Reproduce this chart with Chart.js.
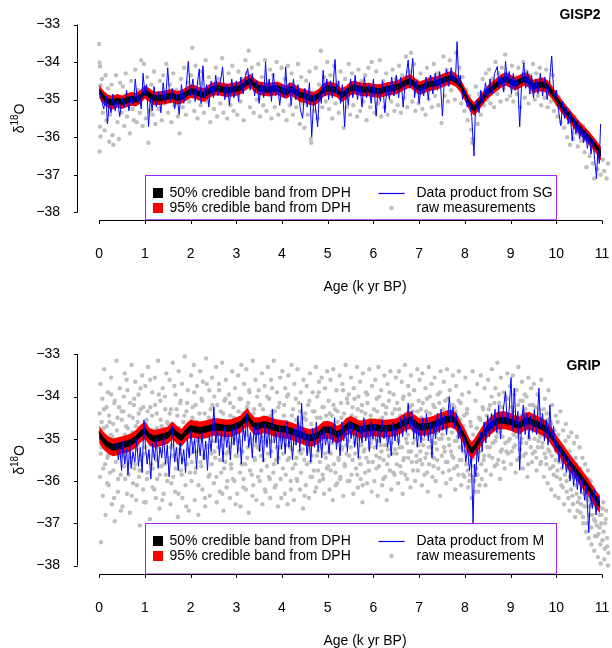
<!DOCTYPE html>
<html><head><meta charset="utf-8">
<script src="https://cdn.jsdelivr.net/npm/chart.js@4/dist/chart.umd.min.js"></script>
<style>
html,body{margin:0;padding:0;background:#fff;overflow:hidden}
#wrap{position:relative;width:612px;height:648px;overflow:hidden;background:#fff}
.panel{position:absolute;left:0;width:656px;height:324px}
</style></head><body>
<div id="wrap">
<div class="panel" style="top:0"><canvas id="gisp" width="656" height="324"></canvas></div>
<div class="panel" style="top:324px"><canvas id="grip" width="656" height="324"></canvas></div>
</div>
<script>
// tick labels
const ageTicks=[0,1,2,3,4,5,6,7,8,9,10,11];
const d18OTicks=[-38,-37,-36,-35,-34,-33];

// ---- GISP2 ----
// posterior band centre [age, d18O] and half widths of the credible bands
const gispMid=[[0,-34.78],[0.1,-34.95],[0.2,-35.05],[0.3,-35.08],[0.4,-35.03],[0.5,-35.07],[0.6,-35.02],[0.7,-34.98],[0.8,-35.0],[0.9,-34.93],[1.0,-34.8],[1.1,-34.88],[1.2,-34.97],[1.3,-34.96],[1.4,-34.95],[1.5,-34.92],[1.6,-34.9],[1.7,-34.95],[1.8,-34.93],[1.9,-34.85],[2.0,-34.78],[2.1,-34.8],[2.2,-34.85],[2.3,-34.88],[2.4,-34.78],[2.5,-34.72],[2.6,-34.7],[2.7,-34.73],[2.8,-34.76],[2.9,-34.74],[3.0,-34.72],[3.1,-34.68],[3.2,-34.58],[3.3,-34.5],[3.4,-34.62],[3.5,-34.7],[3.6,-34.72],[3.7,-34.74],[3.8,-34.72],[3.9,-34.7],[4.0,-34.76],[4.1,-34.8],[4.2,-34.72],[4.3,-34.8],[4.4,-34.88],[4.5,-34.9],[4.6,-34.96],[4.7,-34.98],[4.8,-34.9],[4.9,-34.75],[5.0,-34.7],[5.1,-34.72],[5.2,-34.76],[5.3,-34.88],[5.4,-34.82],[5.5,-34.7],[5.6,-34.68],[5.7,-34.72],[5.8,-34.74],[5.9,-34.73],[6.0,-34.76],[6.1,-34.77],[6.2,-34.75],[6.3,-34.72],[6.4,-34.7],[6.5,-34.68],[6.6,-34.62],[6.7,-34.55],[6.8,-34.5],[6.9,-34.6],[7.0,-34.7],[7.1,-34.66],[7.2,-34.6],[7.3,-34.58],[7.4,-34.55],[7.5,-34.5],[7.6,-34.45],[7.7,-34.42],[7.8,-34.48],[7.9,-34.62],[8.0,-34.85],[8.1,-35.1],[8.2,-35.25],[8.3,-35.12],[8.4,-34.95],[8.5,-34.8],[8.6,-34.7],[8.7,-34.6],[8.8,-34.5],[8.9,-34.45],[9.0,-34.52],[9.1,-34.58],[9.2,-34.52],[9.3,-34.45],[9.4,-34.5],[9.5,-34.65],[9.6,-34.62],[9.7,-34.6],[9.8,-34.65],[9.9,-34.8],[10.0,-34.98],[10.1,-35.15],[10.2,-35.3],[10.3,-35.45],[10.4,-35.6],[10.5,-35.75],[10.6,-35.88],[10.7,-36.0],[10.8,-36.15],[10.9,-36.3],[10.98,-36.45]];
const gispHalf95=0.18;
const gispHalf50=0.08;
// data product from SG [age, d18O]
const gispSG=[[0,-34.72],[0.05,-35.0],[0.1,-35.25],[0.15,-34.9],[0.18,-35.65],[0.22,-35.1],[0.26,-35.35],[0.3,-34.85],[0.35,-35.3],[0.4,-35.0],[0.45,-35.45],[0.5,-34.95],[0.55,-35.2],[0.6,-34.75],[0.65,-35.3],[0.7,-34.9],[0.75,-35.15],[0.79,-34.45],[0.84,-35.1],[0.88,-34.85],[0.92,-35.25],[0.96,-34.3],[1.0,-34.85],[1.04,-34.6],[1.08,-35.72],[1.12,-34.95],[1.16,-35.3],[1.2,-34.65],[1.25,-35.2],[1.3,-34.8],[1.35,-35.35],[1.4,-34.55],[1.45,-35.1],[1.5,-34.15],[1.55,-35.05],[1.6,-34.7],[1.65,-35.25],[1.7,-34.85],[1.75,-35.4],[1.8,-34.6],[1.85,-35.1],[1.9,-34.7],[1.95,-33.98],[2.0,-34.9],[2.05,-34.45],[2.1,-35.05],[2.15,-34.55],[2.19,-34.18],[2.23,-35.1],[2.27,-34.1],[2.31,-34.95],[2.35,-34.6],[2.4,-35.2],[2.45,-34.5],[2.5,-34.95],[2.55,-34.35],[2.6,-34.9],[2.65,-34.55],[2.7,-34.13],[2.75,-35.0],[2.8,-34.6],[2.85,-35.15],[2.9,-34.45],[2.95,-34.95],[3.0,-34.5],[3.05,-35.05],[3.1,-34.4],[3.15,-34.85],[3.2,-34.35],[3.25,-34.17],[3.3,-34.75],[3.35,-34.3],[3.4,-34.9],[3.45,-34.5],[3.5,-35.1],[3.55,-34.55],[3.6,-34.95],[3.64,-34.0],[3.68,-34.85],[3.72,-34.45],[3.77,-35.05],[3.81,-34.3],[3.86,-34.9],[3.9,-34.55],[3.95,-35.15],[4.0,-34.6],[4.05,-34.95],[4.08,-34.13],[4.12,-34.9],[4.16,-34.55],[4.2,-35.15],[4.25,-34.45],[4.3,-35.0],[4.35,-34.6],[4.4,-35.25],[4.45,-35.5],[4.5,-34.7],[4.55,-35.2],[4.6,-34.55],[4.65,-35.99],[4.7,-34.85],[4.74,-35.3],[4.78,-35.72],[4.82,-34.75],[4.86,-35.1],[4.9,-34.22],[4.94,-34.9],[4.98,-34.45],[5.02,-35.0],[5.06,-34.5],[5.1,-34.95],[5.16,-33.93],[5.2,-34.85],[5.24,-34.5],[5.28,-35.1],[5.32,-34.6],[5.37,-35.72],[5.41,-34.7],[5.45,-35.15],[5.5,-34.45],[5.55,-34.95],[5.6,-34.35],[5.65,-35.0],[5.7,-34.55],[5.75,-35.2],[5.8,-34.4],[5.85,-34.95],[5.9,-34.6],[5.95,-35.1],[6.0,-34.45],[6.06,-35.44],[6.1,-34.7],[6.15,-35.05],[6.2,-34.5],[6.25,-35.35],[6.3,-34.6],[6.35,-35.0],[6.4,-34.4],[6.45,-34.9],[6.5,-34.35],[6.55,-34.95],[6.6,-34.4],[6.65,-35.2],[6.7,-34.5],[6.76,-33.95],[6.8,-34.7],[6.86,-33.9],[6.9,-34.95],[6.95,-34.5],[7.0,-35.1],[7.05,-34.6],[7.1,-34.9],[7.15,-34.4],[7.2,-35.0],[7.25,-34.35],[7.3,-34.85],[7.35,-34.3],[7.4,-34.75],[7.45,-34.25],[7.51,-35.44],[7.55,-34.5],[7.6,-34.2],[7.65,-34.65],[7.7,-34.15],[7.75,-34.55],[7.8,-34.3],[7.83,-33.46],[7.87,-34.6],[7.9,-34.35],[7.95,-35.0],[8.0,-34.75],[8.05,-35.2],[8.1,-35.05],[8.15,-35.45],[8.2,-36.5],[8.23,-35.3],[8.27,-35.0],[8.31,-35.35],[8.35,-34.75],[8.4,-35.1],[8.45,-34.55],[8.5,-34.95],[8.55,-34.45],[8.6,-34.85],[8.65,-34.3],[8.71,-34.12],[8.75,-34.7],[8.8,-34.35],[8.85,-34.8],[8.89,-33.98],[8.93,-34.6],[8.97,-34.25],[9.02,-34.85],[9.06,-34.3],[9.1,-34.75],[9.15,-34.4],[9.2,-35.72],[9.24,-34.6],[9.29,-34.02],[9.33,-34.7],[9.37,-34.25],[9.42,-34.85],[9.46,-34.35],[9.5,-34.95],[9.55,-34.45],[9.6,-34.85],[9.65,-34.3],[9.7,-34.9],[9.75,-34.4],[9.8,-35.0],[9.85,-34.55],[9.9,-33.84],[9.95,-34.95],[10.0,-34.75],[10.05,-35.3],[10.1,-35.7],[10.14,-35.05],[10.18,-35.5],[10.22,-35.2],[10.26,-35.65],[10.3,-35.3],[10.35,-36.1],[10.39,-35.5],[10.43,-35.9],[10.47,-35.55],[10.51,-36.05],[10.55,-35.7],[10.6,-36.15],[10.64,-35.8],[10.68,-36.3],[10.72,-35.95],[10.76,-36.45],[10.8,-36.05],[10.84,-36.6],[10.88,-37.1],[10.91,-36.35],[10.94,-36.7],[10.97,-35.65]];
// raw measurements [age, d18O]
const gispRaw=[[0.00,-33.52],[0.01,-34.02],[0.02,-34.12],[0.03,-34.62],[0.02,-35.72],[0.03,-35.98],[0.01,-36.38],[0.06,-34.45],[0.08,-35.35],[0.1,-34.85],[0.12,-35.82],[0.14,-34.35],[0.16,-35.55],[0.19,-34.7],[0.22,-36.12],[0.24,-35.4],[0.27,-34.6],[0.29,-35.95],[0.31,-36.2],[0.34,-35.15],[0.37,-34.35],[0.4,-35.6],[0.43,-36.05],[0.46,-34.55],[0.49,-35.35],
[0.52,-34.65],[0.55,-35.7],[0.58,-34.3],[0.61,-35.45],[0.64,-34.95],[0.67,-35.9],[0.7,-34.5],[0.73,-35.25],[0.76,-35.55],[0.79,-34.2],[0.82,-35.6],[0.86,-34.75],[0.89,-35.35],[0.92,-33.95],[0.95,-35.7],[0.98,-34.05],
[1.02,-35.5],[1.05,-34.4],[1.08,-36.15],[1.11,-35.3],[1.14,-34.6],[1.17,-35.4],[1.2,-34.25],[1.23,-35.65],[1.27,-34.85],[1.3,-35.25],[1.33,-34.5],[1.37,-35.55],[1.4,-34.35],[1.44,-35.1],[1.47,-34.05],
[1.51,-35.35],[1.55,-34.6],[1.58,-35.6],[1.62,-34.3],[1.65,-35.15],[1.69,-34.75],[1.72,-35.45],[1.76,-35.9],[1.79,-34.45],[1.83,-35.2],[1.86,-34.15],[1.9,-35.4],[1.94,-34.55],[1.97,-35.05],
[2.01,-34.35],[2.04,-33.62],[2.08,-35.3],[2.11,-34.1],[2.15,-35.5],[2.18,-34.55],[2.22,-35.15],[2.25,-34.25],[2.29,-35.35],[2.33,-33.95],[2.36,-35.05],[2.4,-34.4],[2.43,-35.6],[2.47,-34.65],
[2.51,-35.25],[2.55,-34.15],[2.58,-35.45],[2.62,-34.45],[2.65,-35.1],[2.69,-33.9],[2.72,-35.35],[2.76,-34.6],[2.8,-35.5],[2.83,-34.3],[2.87,-35.15],[2.91,-34.1],[2.94,-35.3],[2.98,-34.7],
[3.02,-35.4],[3.05,-34.25],[3.09,-35.05],[3.12,-34.45],[3.16,-35.55],[3.2,-33.95],[3.23,-34.3],[3.27,-33.7],[3.3,-35.2],[3.34,-34.15],[3.38,-35.35],[3.41,-34.6],[3.45,-35.0],[3.48,-34.05],
[3.52,-35.45],[3.56,-34.4],[3.59,-35.15],[3.63,-33.95],[3.66,-35.3],[3.7,-34.55],[3.74,-34.2],[3.77,-35.5],[3.81,-34.35],[3.84,-35.2],[3.88,-34.0],[3.92,-35.4],[3.95,-34.6],[3.99,-34.15],
[4.03,-35.3],[4.06,-34.45],[4.1,-35.55],[4.13,-34.1],[4.17,-35.15],[4.21,-34.3],[4.24,-35.4],[4.28,-34.65],[4.31,-35.2],[4.35,-34.05],[4.39,-35.65],[4.42,-34.4],[4.46,-35.1],[4.49,-35.75],
[4.53,-34.5],[4.56,-35.4],[4.6,-34.25],[4.63,-36.05],[4.64,-36.15],[4.67,-34.8],[4.71,-35.3],[4.74,-34.15],[4.78,-35.5],[4.81,-34.6],[4.85,-33.7],[4.88,-35.2],[4.92,-34.4],[4.96,-35.05],[4.99,-34.0],
[5.03,-35.25],[5.06,-34.35],[5.1,-35.5],[5.14,-34.1],[5.17,-35.1],[5.21,-34.55],[5.24,-35.35],[5.28,-34.25],[5.31,-35.0],[5.35,-35.75],[5.38,-34.45],[5.42,-35.2],[5.46,-34.05],[5.49,-35.4],
[5.53,-34.3],[5.56,-35.15],[5.6,-34.6],[5.64,-35.45],[5.67,-34.2],[5.71,-35.3],[5.74,-34.5],[5.78,-35.05],[5.82,-34.35],[5.85,-35.55],[5.89,-34.15],[5.93,-35.2],[5.96,-34.0],[5.99,-34.7],
[6.03,-35.35],[6.06,-34.25],[6.1,-35.1],[6.14,-33.95],[6.17,-35.45],[6.21,-34.5],[6.24,-35.2],[6.28,-34.3],[6.31,-35.4],[6.35,-34.6],[6.39,-35.05],[6.42,-34.2],[6.46,-35.3],[6.49,-34.45],
[6.53,-35.15],[6.56,-34.1],[6.6,-35.35],[6.63,-34.35],[6.67,-34.95],[6.71,-33.85],[6.74,-35.2],[6.78,-34.25],[6.82,-33.75],[6.85,-35.05],[6.89,-34.05],[6.92,-35.3],[6.96,-34.5],[6.99,-35.1],
[7.03,-34.3],[7.07,-35.25],[7.1,-34.55],[7.14,-35.4],[7.17,-34.15],[7.21,-35.0],[7.25,-34.4],[7.28,-35.2],[7.32,-34.05],[7.35,-34.9],[7.39,-34.3],[7.42,-35.15],[7.46,-34.6],[7.49,-35.62],
[7.53,-33.85],[7.56,-34.9],[7.6,-34.2],[7.63,-35.05],[7.67,-33.95],[7.7,-34.75],[7.74,-34.3],[7.78,-35.0],[7.81,-33.75],[7.85,-34.55],[7.88,-34.15],[7.92,-35.1],[7.95,-34.4],[7.99,-35.3],
[8.03,-34.75],[8.06,-35.55],[8.1,-34.9],[8.14,-35.8],[8.16,-36.15],[8.17,-36.05],[8.2,-35.3],[8.24,-34.65],[8.28,-35.65],[8.31,-34.85],[8.35,-35.4],[8.39,-34.45],[8.42,-35.15],[8.46,-34.3],[8.49,-35.0],
[8.53,-34.2],[8.56,-35.1],[8.6,-34.45],[8.64,-35.2],[8.67,-34.0],[8.71,-34.85],[8.74,-34.3],[8.78,-35.05],[8.81,-34.15],[8.85,-34.7],[8.88,-33.8],[8.92,-35.0],[8.95,-34.35],[8.99,-34.9],
[9.03,-34.1],[9.06,-35.05],[9.1,-34.4],[9.14,-34.85],[9.17,-34.15],[9.21,-35.2],[9.24,-34.5],[9.28,-34.0],[9.31,-34.95],[9.35,-34.25],[9.39,-35.1],[9.42,-34.35],[9.46,-34.8],[9.49,-34.05],
[9.53,-35.0],[9.56,-34.3],[9.6,-34.9],[9.64,-34.15],[9.67,-35.15],[9.71,-34.45],[9.74,-34.95],[9.78,-34.2],[9.81,-35.2],[9.85,-34.55],[9.88,-35.05],[9.92,-34.35],[9.95,-35.3],[9.99,-34.8],
[10.03,-35.45],[10.06,-34.95],[10.1,-35.6],[10.14,-35.2],[10.17,-35.75],[10.21,-35.35],[10.24,-36.0],[10.28,-35.5],[10.3,-36.2],[10.33,-35.6],[10.37,-36.05],[10.4,-35.45],[10.44,-35.9],[10.47,-36.25],
[10.51,-35.65],[10.55,-36.1],[10.59,-35.7],[10.62,-36.4],[10.66,-36.8],[10.69,-35.95],[10.73,-36.5],[10.77,-36.15],[10.8,-36.7],[10.83,-37.1],[10.86,-36.35],[10.9,-36.85],[10.93,-36.45],[10.97,-37.0],[11.02,-36.6],[11.05,-36.9],[11.1,-37.1],[11.13,-36.7]];

// ---- GRIP ----
const gripMid=[[0,-34.9],[0.1,-35.05],[0.2,-35.15],[0.3,-35.2],[0.4,-35.18],[0.5,-35.15],[0.6,-35.12],[0.7,-35.08],[0.8,-35.0],[0.9,-34.88],[1.0,-34.8],[1.1,-34.95],[1.2,-35.0],[1.3,-34.98],[1.4,-34.95],[1.5,-34.92],[1.6,-34.8],[1.7,-34.9],[1.8,-34.98],[1.9,-34.85],[2.0,-34.75],[2.1,-34.78],[2.2,-34.8],[2.3,-34.78],[2.4,-34.75],[2.5,-34.72],[2.6,-34.72],[2.7,-34.74],[2.8,-34.75],[2.9,-34.74],[3.0,-34.7],[3.1,-34.65],[3.2,-34.52],[3.25,-34.48],[3.3,-34.58],[3.4,-34.7],[3.5,-34.7],[3.6,-34.66],[3.7,-34.68],[3.8,-34.72],[3.9,-34.75],[4.0,-34.77],[4.1,-34.78],[4.2,-34.82],[4.3,-34.86],[4.4,-34.9],[4.5,-34.95],[4.6,-34.98],[4.7,-34.96],[4.8,-34.9],[4.9,-34.8],[5.0,-34.78],[5.1,-34.82],[5.2,-34.9],[5.3,-34.85],[5.4,-34.72],[5.5,-34.67],[5.6,-34.72],[5.7,-34.78],[5.8,-34.76],[5.9,-34.74],[6.0,-34.73],[6.1,-34.74],[6.2,-34.76],[6.3,-34.75],[6.4,-34.74],[6.5,-34.72],[6.6,-34.66],[6.7,-34.6],[6.8,-34.56],[6.9,-34.64],[7.0,-34.72],[7.1,-34.72],[7.2,-34.7],[7.3,-34.67],[7.4,-34.62],[7.5,-34.58],[7.6,-34.54],[7.7,-34.52],[7.8,-34.58],[7.9,-34.78],[8.0,-34.97],[8.1,-35.2],[8.15,-35.28],[8.2,-35.22],[8.3,-35.05],[8.4,-34.88],[8.5,-34.75],[8.6,-34.66],[8.7,-34.58],[8.8,-34.56],[8.9,-34.57],[9.0,-34.6],[9.1,-34.65],[9.2,-34.68],[9.3,-34.6],[9.4,-34.57],[9.5,-34.62],[9.6,-34.67],[9.7,-34.72],[9.8,-34.8],[9.9,-34.95],[10.0,-35.12],[10.1,-35.27],[10.2,-35.42],[10.3,-35.58],[10.4,-35.72],[10.5,-35.86],[10.6,-36.0],[10.7,-36.15],[10.8,-36.32],[10.9,-36.48],[10.96,-36.56]];
const gripHalf95=0.21;
const gripHalf50=0.08;
// data product from M [age, d18O]
const gripM=[[0.38,-35.1],[0.42,-35.5],[0.45,-35.2],[0.49,-35.75],[0.52,-35.05],[0.56,-35.6],[0.6,-35.25],[0.63,-35.85],[0.67,-35.1],[0.7,-35.7],[0.74,-35.3],[0.78,-35.55],[0.82,-35.0],[0.86,-35.65],[0.9,-35.2],[0.94,-35.8],[0.98,-34.55],[1.01,-35.15],[1.05,-35.6],[1.09,-35.25],[1.13,-35.95],[1.17,-35.1],[1.21,-35.5],[1.25,-35.0],[1.29,-35.7],[1.33,-35.2],[1.37,-35.45],[1.41,-34.9],[1.45,-35.6],[1.49,-35.15],[1.53,-35.9],[1.57,-35.3],[1.61,-34.7],[1.65,-35.55],[1.69,-35.2],[1.73,-35.75],[1.77,-35.1],[1.81,-35.6],[1.85,-35.25],[1.89,-35.8],[1.93,-35.0],[1.97,-35.45],[2.01,-34.8],[2.05,-35.35],[2.09,-35.0],[2.13,-35.7],[2.17,-34.95],[2.21,-35.4],[2.25,-34.85],[2.29,-35.5],[2.33,-35.05],[2.37,-35.75],[2.41,-34.9],[2.45,-35.3],[2.51,-34.24],[2.55,-35.1],[2.59,-34.75],[2.63,-35.4],[2.67,-34.85],[2.71,-35.55],[2.75,-34.7],[2.79,-35.2],[2.83,-34.9],[2.87,-35.5],[2.91,-34.75],[2.95,-35.15],[2.99,-34.6],[3.03,-35.35],[3.07,-34.8],[3.11,-35.6],[3.15,-34.7],[3.19,-35.05],[3.23,-34.4],[3.27,-35.2],[3.31,-34.85],[3.35,-35.45],[3.39,-34.7],[3.43,-35.1],[3.47,-34.6],[3.51,-35.3],[3.55,-34.8],[3.59,-35.55],[3.63,-34.65],[3.67,-35.2],[3.71,-34.75],[3.75,-35.45],[3.79,-34.3],[3.83,-35.1],[3.87,-34.85],[3.91,-35.6],[3.95,-34.7],[3.99,-35.25],[4.03,-34.8],[4.07,-35.35],[4.11,-34.6],[4.15,-35.2],[4.19,-34.9],[4.23,-35.5],[4.27,-34.75],[4.31,-35.15],[4.35,-34.45],[4.39,-35.3],[4.43,-34.16],[4.47,-35.1],[4.51,-34.8],[4.55,-35.4],[4.59,-34.9],[4.63,-35.55],[4.67,-34.75],[4.71,-35.2],[4.75,-34.6],[4.79,-35.3],[4.83,-34.85],[4.87,-35.45],[4.91,-34.7],[4.95,-35.15],[4.99,-34.9],[5.03,-35.35],[5.07,-34.7],[5.11,-35.1],[5.15,-34.5],[5.19,-35.25],[5.23,-34.85],[5.27,-35.4],[5.31,-34.6],[5.35,-35.05],[5.39,-34.75],[5.43,-35.3],[5.47,-34.55],[5.51,-35.0],[5.55,-34.65],[5.59,-35.2],[5.63,-34.8],[5.67,-35.45],[5.71,-34.7],[5.75,-35.1],[5.79,-34.5],[5.83,-35.05],[5.87,-34.75],[5.91,-35.3],[5.95,-34.6],[5.99,-35.0],[6.03,-34.65],[6.07,-35.25],[6.11,-34.8],[6.15,-35.1],[6.19,-34.55],[6.23,-35.0],[6.27,-34.7],[6.31,-35.2],[6.35,-34.85],[6.39,-35.4],[6.43,-34.6],[6.47,-35.05],[6.51,-34.75],[6.55,-35.15],[6.6,-34.5],[6.64,-34.95],[6.68,-34.45],[6.72,-34.85],[6.76,-34.15],[6.8,-34.75],[6.84,-34.35],[6.88,-35.0],[6.92,-34.55],[6.96,-35.2],[7.0,-34.7],[7.04,-35.1],[7.08,-34.5],[7.12,-34.95],[7.16,-34.4],[7.2,-35.05],[7.24,-34.6],[7.28,-35.45],[7.32,-34.65],[7.36,-35.0],[7.4,-34.4],[7.44,-34.85],[7.48,-34.3],[7.52,-34.8],[7.56,-34.45],[7.6,-34.9],[7.66,-34.0],[7.7,-34.6],[7.74,-34.25],[7.78,-34.75],[7.82,-34.4],[7.86,-35.0],[7.9,-34.7],[7.94,-35.3],[7.98,-34.95],[8.02,-35.55],[8.06,-35.2],[8.1,-35.75],[8.14,-35.4],[8.18,-37.0],[8.21,-35.6],[8.24,-35.9],[8.27,-35.2],[8.3,-35.55],[8.34,-34.85],[8.38,-35.3],[8.42,-34.6],[8.46,-35.1],[8.5,-34.45],[8.54,-34.95],[8.58,-34.4],[8.62,-34.8],[8.66,-34.3],[8.7,-34.85],[8.74,-34.2],[8.78,-35.0],[8.82,-34.5],[8.86,-34.15],[8.89,-33.88],[8.93,-34.7],[8.97,-34.3],[9.01,-33.55],[9.05,-34.8],[9.08,-33.8],[9.12,-34.65],[9.16,-34.35],[9.2,-35.74],[9.24,-34.6],[9.28,-34.2],[9.32,-34.9],[9.36,-34.4],[9.4,-35.0],[9.44,-34.45],[9.48,-34.85],[9.52,-34.3],[9.57,-34.9],[9.62,-33.8],[9.66,-34.75],[9.7,-34.4],[9.74,-35.05],[9.78,-34.55],[9.82,-35.15],[9.86,-34.2],[9.9,-35.0],[9.94,-34.7],[9.98,-35.3],[10.02,-35.05],[10.06,-35.55],[10.1,-35.2],[10.14,-35.7],[10.18,-35.35],[10.22,-35.8],[10.26,-35.45],[10.3,-36.0],[10.34,-35.6],[10.38,-36.1],[10.42,-35.7],[10.46,-36.2],[10.5,-35.85],[10.54,-36.3],[10.58,-35.95],[10.62,-36.45],[10.66,-36.1],[10.71,-37.22],[10.75,-36.3],[10.79,-36.65],[10.83,-36.2],[10.87,-36.8],[10.91,-36.35],[10.95,-36.6]];
// raw measurements [age, d18O]
const gripRaw=[[0.01,-34.4],[0.02,-35.9],[0.03,-33.7],[0.04,-37.45],[0.05,-35.2],[0.07,-34.05],[0.08,-36.35],[0.1,-34.75],[0.11,-33.35],[0.13,-35.6],[0.14,-36.8],[0.16,-34.25],[0.18,-35.45],[0.19,-33.9],[0.21,-36.1],[0.23,-34.6],[0.24,-35.05],[0.26,-33.55],[0.28,-36.55],[0.29,-34.95],[0.31,-35.75],[0.33,-34.15],[0.34,-36.95],[0.36,-35.3],[0.38,-33.15],[0.4,-34.5],[0.41,-36.25],[0.43,-35.0],[0.45,-33.8],[0.47,-35.85],[0.49,-34.35],
[0.51,-36.6],[0.52,-35.4],[0.54,-34.0],[0.56,-33.45],[0.57,-35.95],[0.59,-34.7],[0.61,-36.3],[0.62,-33.85],[0.64,-35.15],[0.66,-34.45],[0.67,-36.75],[0.69,-35.55],[0.71,-33.25],[0.72,-34.85],[0.74,-36.05],[0.76,-34.2],[0.77,-35.7],[0.79,-33.65],[0.81,-36.45],[0.82,-35.25],[0.84,-34.6],[0.86,-33.95],[0.87,-35.9],[0.89,-37.05],[0.91,-34.3],[0.92,-35.5],[0.94,-33.5],[0.96,-36.2],[0.97,-34.9],[0.99,-35.35],
[1.01,-33.75],[1.02,-36.5],[1.04,-34.55],[1.06,-35.8],[1.07,-33.3],[1.09,-35.05],[1.11,-36.9],[1.12,-34.25],[1.14,-35.6],[1.16,-33.9],[1.17,-36.15],[1.19,-34.8],[1.21,-35.4],[1.22,-33.55],[1.24,-36.4],[1.26,-34.4],[1.27,-35.95],[1.29,-33.15],[1.31,-35.2],[1.32,-36.65],[1.34,-34.1],[1.36,-35.65],[1.37,-34.7],[1.39,-33.8],[1.41,-36.3],[1.42,-35.1],[1.44,-34.0],[1.46,-35.85],[1.47,-33.45],[1.49,-36.0],
[1.51,-34.65],[1.52,-35.45],[1.54,-33.6],[1.56,-36.55],[1.57,-34.3],[1.59,-35.15],[1.61,-33.2],[1.62,-35.9],[1.64,-34.85],[1.66,-36.25],[1.67,-33.95],[1.69,-35.5],[1.71,-34.45],[1.72,-36.85],[1.74,-33.4],[1.76,-35.25],[1.77,-34.15],[1.79,-35.75],[1.81,-33.7],[1.82,-36.4],[1.84,-34.6],[1.86,-35.0],[1.87,-33.05],[1.89,-36.1],[1.91,-34.35],[1.92,-35.6],[1.94,-33.85],[1.96,-36.7],[1.97,-34.95],[1.99,-35.35],
[2.01,-33.5],[2.02,-36.0],[2.04,-34.5],[2.06,-35.3],[2.07,-33.25],[2.09,-36.45],[2.11,-34.2],[2.12,-35.7],[2.14,-33.75],[2.16,-35.05],[2.17,-36.8],[2.19,-34.75],[2.21,-33.4],[2.22,-35.55],[2.24,-34.05],[2.26,-36.2],[2.27,-33.65],[2.29,-35.4],[2.31,-34.4],[2.32,-36.6],[2.34,-33.1],[2.36,-35.15],[2.37,-34.9],[2.39,-35.9],[2.41,-33.85],[2.42,-36.35],[2.44,-34.3],[2.46,-35.6],[2.47,-33.55],[2.49,-34.8],
[2.51,-36.05],[2.52,-34.0],[2.54,-35.45],[2.56,-33.3],[2.57,-36.5],[2.59,-34.65],[2.61,-35.2],[2.62,-33.7],[2.64,-36.25],[2.66,-34.35],[2.67,-35.8],[2.69,-33.2],[2.71,-35.0],[2.72,-36.7],[2.74,-34.1],[2.76,-35.55],[2.77,-33.6],[2.79,-36.15],[2.81,-34.8],[2.82,-35.3],[2.84,-33.95],[2.86,-36.4],[2.87,-34.45],[2.89,-35.7],[2.91,-33.4],[2.92,-35.1],[2.94,-34.25],[2.96,-36.0],[2.97,-33.8],[2.99,-35.4],
[3.01,-34.55],[3.02,-36.3],[3.04,-33.5],[3.06,-35.25],[3.07,-34.05],[3.09,-36.6],[3.11,-33.25],[3.12,-35.6],[3.14,-34.4],[3.16,-35.95],[3.17,-33.7],[3.19,-34.85],[3.21,-36.2],[3.22,-33.35],[3.24,-35.45],[3.26,-34.15],[3.27,-36.75],[3.29,-33.9],[3.31,-35.1],[3.32,-34.6],[3.34,-35.85],[3.36,-33.15],[3.37,-36.1],[3.39,-34.3],[3.41,-35.5],[3.42,-33.6],[3.44,-36.45],[3.46,-34.75],[3.47,-35.2],[3.49,-33.85],
[3.51,-36.0],[3.52,-34.2],[3.54,-35.4],[3.56,-33.45],[3.57,-36.55],[3.59,-34.7],[3.61,-35.05],[3.62,-33.75],[3.64,-36.25],[3.66,-34.5],[3.67,-35.65],[3.69,-33.3],[3.71,-35.9],[3.72,-34.05],[3.74,-36.4],[3.76,-33.6],[3.77,-35.3],[3.79,-34.35],[3.81,-35.8],[3.82,-33.15],[3.84,-36.15],[3.86,-34.8],[3.87,-35.5],[3.89,-33.9],[3.91,-36.6],[3.92,-34.25],[3.94,-35.2],[3.96,-33.55],[3.97,-35.95],[3.99,-34.6],
[4.01,-33.4],[4.02,-35.7],[4.04,-34.45],[4.06,-36.3],[4.07,-33.8],[4.09,-35.15],[4.11,-34.0],[4.12,-36.55],[4.14,-33.5],[4.16,-35.45],[4.17,-34.7],[4.19,-36.0],[4.21,-33.25],[4.22,-35.25],[4.24,-34.3],[4.26,-36.45],[4.27,-33.7],[4.29,-35.6],[4.31,-34.55],[4.32,-35.95],[4.34,-33.35],[4.36,-35.05],[4.37,-34.15],[4.39,-36.2],[4.41,-33.9],[4.42,-35.35],[4.44,-34.85],[4.46,-36.65],[4.47,-33.6],[4.49,-35.5],
[4.51,-34.4],[4.52,-36.1],[4.54,-33.75],[4.56,-35.3],[4.57,-34.2],[4.59,-36.4],[4.61,-33.45],[4.62,-35.55],[4.64,-34.65],[4.66,-35.9],[4.67,-33.9],[4.69,-35.1],[4.71,-34.35],[4.72,-36.25],[4.74,-33.3],[4.76,-35.4],[4.77,-34.0],[4.79,-35.75],[4.81,-33.65],[4.82,-36.0],[4.84,-34.5],[4.86,-35.2],[4.87,-33.55],[4.89,-35.85],[4.91,-34.25],[4.92,-36.3],[4.94,-33.8],[4.96,-35.45],[4.97,-34.75],[4.99,-33.4],
[5.01,-35.65],[5.02,-34.1],[5.04,-36.2],[5.06,-33.6],[5.07,-35.35],[5.09,-34.45],[5.11,-36.45],[5.12,-33.35],[5.14,-35.0],[5.16,-34.3],[5.17,-35.8],[5.19,-33.85],[5.21,-36.05],[5.22,-34.6],[5.24,-35.5],[5.26,-33.5],[5.27,-35.95],[5.29,-34.15],[5.31,-35.25],[5.32,-33.7],[5.34,-36.35],[5.36,-34.4],[5.37,-35.6],[5.39,-33.25],[5.41,-35.15],[5.42,-34.05],[5.44,-36.0],[5.46,-33.95],[5.47,-35.4],[5.49,-34.7],
[5.51,-33.55],[5.52,-35.85],[5.54,-34.25],[5.56,-36.3],[5.57,-33.8],[5.59,-35.1],[5.61,-34.5],[5.62,-35.7],[5.64,-33.3],[5.66,-36.15],[5.67,-34.0],[5.69,-35.45],[5.71,-33.65],[5.72,-35.95],[5.74,-34.35],[5.76,-36.5],[5.77,-33.45],[5.79,-35.3],[5.81,-34.6],[5.82,-35.8],[5.84,-33.9],[5.86,-36.05],[5.87,-34.15],[5.89,-35.55],[5.91,-33.35],[5.92,-35.2],[5.94,-34.45],[5.96,-36.25],[5.97,-33.75],[5.99,-35.0],
[6.01,-34.3],[6.02,-36.0],[6.04,-33.6],[6.06,-35.4],[6.07,-34.05],[6.09,-36.35],[6.11,-33.3],[6.12,-35.65],[6.14,-34.55],[6.16,-35.15],[6.17,-33.85],[6.19,-36.1],[6.21,-34.2],[6.22,-35.5],[6.24,-33.5],[6.26,-35.9],[6.27,-34.4],[6.29,-36.45],[6.31,-33.7],[6.32,-35.25],[6.34,-34.1],[6.36,-35.75],[6.37,-33.4],[6.39,-36.2],[6.41,-34.65],[6.42,-35.35],[6.44,-33.95],[6.46,-35.85],[6.47,-34.3],[6.49,-33.55],
[6.51,-35.6],[6.52,-34.15],[6.54,-36.05],[6.56,-33.4],[6.57,-35.2],[6.59,-34.45],[6.61,-35.8],[6.62,-33.65],[6.64,-36.3],[6.66,-34.0],[6.67,-35.45],[6.69,-33.25],[6.71,-35.0],[6.72,-34.6],[6.74,-35.95],[6.76,-33.75],[6.77,-35.3],[6.79,-34.25],[6.81,-36.15],[6.82,-33.5],[6.84,-35.55],[6.86,-34.35],[6.87,-35.1],[6.89,-33.85],[6.91,-36.0],[6.92,-34.5],[6.94,-35.4],[6.96,-33.35],[6.97,-35.75],[6.99,-34.1],
[7.01,-33.6],[7.02,-35.5],[7.04,-34.3],[7.06,-36.1],[7.07,-33.45],[7.09,-35.15],[7.11,-34.55],[7.12,-35.85],[7.14,-33.8],[7.16,-35.35],[7.17,-34.05],[7.19,-36.25],[7.21,-33.3],[7.22,-35.6],[7.24,-34.4],[7.26,-35.05],[7.27,-33.7],[7.29,-35.9],[7.31,-34.2],[7.32,-35.45],[7.34,-33.55],[7.36,-36.0],[7.37,-34.65],[7.39,-35.25],[7.41,-33.95],[7.42,-35.7],[7.44,-34.15],[7.46,-36.35],[7.47,-33.4],[7.49,-35.0],
[7.51,-34.45],[7.52,-35.8],[7.54,-33.65],[7.56,-35.3],[7.57,-34.1],[7.59,-36.05],[7.61,-33.35],[7.62,-35.55],[7.64,-34.35],[7.66,-35.15],[7.67,-33.85],[7.69,-35.95],[7.71,-34.6],[7.72,-35.4],[7.74,-33.5],[7.76,-35.7],[7.77,-34.25],[7.79,-36.2],[7.81,-33.75],[7.82,-35.05],[7.84,-34.5],[7.86,-35.85],[7.87,-33.4],[7.89,-35.5],[7.91,-34.15],[7.92,-36.1],[7.94,-33.95],[7.96,-35.3],[7.97,-34.7],[7.99,-35.9],
[8.01,-33.55],[8.03,-35.6],[8.05,-34.3],[8.07,-36.15],[8.09,-33.9],[8.11,-35.85],[8.13,-34.7],[8.15,-36.4],[8.17,-33.4],[8.19,-35.45],[8.21,-36.0],[8.23,-34.1],[8.25,-35.7],[8.27,-33.7],[8.29,-36.25],[8.31,-34.5],[8.33,-35.3],[8.35,-33.5],[8.37,-35.95],[8.39,-34.25],[8.41,-35.5],[8.43,-33.8],[8.45,-36.1],[8.47,-34.65],[8.49,-35.2],
[8.51,-33.6],[8.53,-35.4],[8.55,-34.2],[8.57,-35.85],[8.59,-33.35],[8.61,-35.1],[8.63,-34.45],[8.65,-35.65],[8.67,-33.8],[8.69,-34.95],[8.71,-33.2],[8.73,-35.5],[8.75,-34.15],[8.77,-35.95],[8.79,-33.55],[8.81,-35.25],[8.83,-34.4],[8.85,-33.9],[8.87,-35.7],[8.89,-34.0],[8.91,-35.3],[8.93,-33.45],[8.95,-35.05],[8.97,-34.6],[8.99,-33.75],
[9.01,-35.6],[9.03,-34.25],[9.05,-33.5],[9.07,-35.2],[9.09,-34.5],[9.11,-35.8],[9.13,-33.85],[9.15,-34.95],[9.17,-33.3],[9.19,-35.45],[9.21,-34.1],[9.23,-35.1],[9.25,-33.65],[9.27,-35.7],[9.29,-34.35],[9.31,-33.95],[9.33,-35.35],[9.35,-34.0],[9.37,-35.9],[9.39,-33.55],[9.41,-35.0],[9.43,-34.45],[9.45,-33.8],[9.47,-35.55],[9.49,-34.2],
[9.51,-33.7],[9.53,-35.3],[9.55,-34.55],[9.57,-35.75],[9.59,-33.95],[9.61,-35.05],[9.63,-34.3],[9.65,-35.6],[9.67,-33.6],[9.69,-35.2],[9.71,-34.75],[9.73,-35.9],[9.75,-34.05],[9.77,-35.45],[9.79,-34.4],[9.81,-36.05],[9.83,-33.85],[9.85,-35.3],[9.87,-34.6],[9.89,-36.2],[9.91,-34.2],[9.93,-35.65],[9.95,-34.9],[9.97,-36.35],[9.99,-34.45],
[10.01,-35.9],[10.03,-34.6],[10.05,-36.4],[10.07,-35.2],[10.09,-34.35],[10.11,-36.1],[10.13,-35.5],[10.15,-34.8],[10.17,-36.55],[10.19,-35.35],[10.21,-34.65],[10.23,-36.25],[10.25,-35.7],[10.27,-34.95],[10.29,-36.7],[10.31,-35.45],[10.33,-34.85],[10.35,-36.35],[10.37,-35.9],[10.39,-35.1],[10.41,-36.85],[10.43,-35.6],[10.45,-34.95],[10.47,-36.5],[10.49,-35.8],
[10.51,-35.2],[10.53,-36.75],[10.55,-36.05],[10.57,-35.45],[10.59,-37.0],[10.61,-36.3],[10.63,-35.6],[10.65,-37.2],[10.67,-36.45],[10.69,-35.75],[10.71,-37.35],[10.73,-36.6],[10.75,-36.0],[10.77,-37.5],[10.79,-36.8],[10.81,-36.2],[10.83,-37.65],[10.85,-36.95],[10.87,-36.35],[10.89,-37.3],[10.91,-37.8],[10.93,-36.6],[10.95,-37.1],[10.97,-37.95],[10.99,-36.8],[11.01,-37.4],[11.03,-36.5],[11.05,-37.85],[11.07,-37.0],[11.09,-36.7],[11.11,-37.55],[11.13,-38.0],
[0.015,-34.85],[0.035,-35.35],[0.055,-34.6],[0.075,-34.95],[0.09,-35.7],[0.105,-34.3],[0.125,-35.15],[0.145,-35.0],[0.165,-34.7],[0.175,-36.05],[0.195,-35.4],[0.215,-34.45],[0.235,-35.8],[0.25,-34.9],[0.265,-33.95],[0.285,-35.25],[0.305,-34.65],[0.325,-36.4],[0.345,-34.1],[0.365,-35.55],[0.39,-34.8],[0.415,-35.95],[0.435,-34.25],[0.455,-35.1],[0.475,-36.7],[0.495,-34.55],
[0.515,-35.05],[0.53,-34.35],[0.545,-35.65],[0.565,-34.9],[0.585,-35.3],[0.6,-33.6],[0.625,-34.75],[0.645,-35.85],[0.655,-35.0],[0.675,-34.15],[0.695,-35.45],[0.715,-36.35],[0.735,-34.5],[0.75,-35.2],[0.765,-34.05],[0.785,-35.6],[0.805,-34.7],[0.825,-36.1],[0.845,-35.15],[0.865,-34.4],[0.885,-35.75],[0.905,-33.8],[0.925,-34.95],[0.945,-35.4],[0.965,-34.25],[0.985,-36.5],
[1.005,-35.2],[1.025,-34.65],[1.045,-35.95],[1.06,-34.35],[1.08,-35.4],[1.1,-34.9],[1.115,-33.6],[1.135,-35.15],[1.155,-34.45],[1.175,-35.7],[1.185,-34.95],[1.205,-36.2],[1.225,-34.2],[1.245,-35.5],[1.265,-34.75],[1.28,-35.05],[1.305,-33.95],[1.325,-35.85],[1.345,-34.55],[1.365,-35.3],[1.38,-36.45],[1.405,-34.85],[1.425,-35.6],[1.445,-34.3],[1.465,-35.0],[1.485,-34.6],
[1.505,-35.55],[1.525,-34.9],[1.545,-34.4],[1.565,-35.2],[1.58,-36.05],[1.6,-34.65],[1.625,-35.4],[1.645,-33.75],[1.655,-34.95],[1.675,-35.7],[1.695,-34.3],[1.715,-35.1],[1.735,-36.3],[1.75,-34.75],[1.765,-35.35],[1.785,-34.1],[1.805,-35.85],[1.825,-34.9],[1.845,-35.5],[1.865,-34.45],[1.885,-35.0],[1.905,-36.6],[1.925,-34.15],[1.945,-35.25],[1.96,-34.7],[1.985,-35.8],
[2.005,-34.95],[2.025,-35.55],[2.045,-34.25],[2.065,-35.1],[2.08,-33.9],[2.1,-35.8],[2.125,-34.6],[2.135,-35.3],[2.155,-34.85],[2.175,-36.1],[2.195,-34.4],[2.215,-35.0],[2.235,-35.65],[2.255,-34.1],[2.28,-34.7],[2.3,-35.45],[2.315,-36.4],[2.335,-34.95],[2.355,-33.7],[2.375,-35.2],[2.395,-34.5],[2.415,-35.85],[2.435,-34.8],[2.455,-35.35],[2.475,-34.2],[2.495,-35.05],
[2.505,-34.55],[2.525,-35.3],[2.545,-34.85],[2.565,-35.9],[2.585,-34.2],[2.6,-35.05],[2.625,-33.85],[2.645,-35.5],[2.655,-34.6],[2.675,-35.15],[2.695,-36.3],[2.715,-34.4],[2.735,-35.7],[2.75,-34.95],[2.765,-34.05],[2.785,-35.35],[2.805,-36.0],[2.825,-34.7],[2.845,-35.2],[2.865,-34.15],[2.885,-35.6],[2.9,-34.9],[2.925,-35.95],[2.945,-34.5],[2.965,-35.0],[2.985,-36.55],
[3.005,-34.8],[3.025,-35.4],[3.045,-34.35],[3.065,-35.05],[3.08,-35.8],[3.1,-34.05],[3.125,-34.7],[3.135,-35.3],[3.155,-36.15],[3.175,-34.5],[3.195,-35.6],[3.215,-34.9],[3.235,-34.25],[3.255,-35.2],[3.28,-33.85],[3.3,-35.75],[3.315,-34.6],[3.335,-35.0],[3.355,-36.35],[3.375,-34.4],[3.395,-35.45],[3.415,-34.85],[3.435,-35.15],[3.455,-34.0],[3.475,-35.9],[3.495,-34.65],
[3.505,-35.25],[3.525,-34.55],[3.545,-35.75],[3.565,-34.95],[3.585,-34.3],[3.6,-35.5],[3.625,-36.2],[3.645,-34.8],[3.655,-35.1],[3.675,-34.0],[3.695,-35.35],[3.715,-34.6],[3.735,-35.95],[3.75,-34.45],[3.765,-35.05],[3.785,-33.8],[3.805,-34.9],[3.825,-35.6],[3.845,-34.35],[3.865,-36.1],[3.885,-35.2],[3.9,-34.7],[3.925,-35.45],[3.945,-34.15],[3.965,-35.0],[3.985,-36.4],
[4.005,-34.9],[4.025,-35.35],[4.045,-34.2],[4.065,-35.0],[4.08,-35.85],[4.1,-34.6],[4.125,-35.5],[4.135,-33.95],[4.155,-34.75],[4.175,-35.2],[4.195,-36.2],[4.215,-34.45],[4.235,-35.7],[4.255,-34.9],[4.28,-35.1],[4.3,-34.05],[4.315,-35.45],[4.335,-36.0],[4.355,-34.65],[4.375,-35.3],[4.395,-34.35],[4.415,-35.8],[4.435,-34.95],[4.455,-35.25],[4.475,-34.5],[4.495,-36.35],
[4.505,-35.0],[4.525,-34.55],[4.545,-35.6],[4.565,-34.85],[4.585,-35.25],[4.6,-34.1],[4.625,-35.9],[4.645,-34.95],[4.655,-35.4],[4.675,-34.35],[4.695,-35.75],[4.715,-34.8],[4.735,-35.05],[4.75,-36.15],[4.765,-34.5],[4.785,-35.3],[4.805,-33.9],[4.825,-35.55],[4.845,-34.7],[4.865,-35.15],[4.885,-34.25],[4.9,-35.95],[4.925,-34.9],[4.945,-35.35],[4.965,-34.45],[4.985,-35.7],
[5.005,-34.85],[5.025,-35.3],[5.045,-34.4],[5.065,-35.75],[5.08,-34.95],[5.1,-35.1],[5.125,-34.2],[5.135,-35.6],[5.155,-34.7],[5.175,-36.1],[5.195,-35.0],[5.215,-34.35],[5.235,-35.45],[5.255,-34.85],[5.28,-35.9],[5.3,-34.5],[5.315,-35.2],[5.335,-33.85],[5.355,-34.95],[5.375,-35.65],[5.395,-34.6],[5.415,-35.35],[5.435,-34.15],[5.455,-35.05],[5.475,-36.0],[5.495,-34.75],
[5.505,-35.2],[5.525,-34.45],[5.545,-35.5],[5.565,-34.9],[5.585,-34.05],[5.6,-35.35],[5.625,-34.75],[5.645,-35.85],[5.655,-34.3],[5.675,-35.0],[5.695,-34.6],[5.715,-35.6],[5.735,-35.15],[5.75,-34.2],[5.765,-36.1],[5.785,-34.85],[5.805,-35.25],[5.825,-34.4],[5.845,-35.45],[5.865,-33.95],[5.885,-34.95],[5.9,-35.75],[5.925,-34.55],[5.945,-35.1],[5.965,-34.8],[5.985,-35.55],
[6.005,-34.65],[6.025,-35.2],[6.045,-34.9],[6.065,-35.7],[6.08,-34.35],[6.1,-35.05],[6.125,-34.0],[6.135,-35.45],[6.155,-34.75],[6.175,-35.3],[6.195,-34.5],[6.215,-35.95],[6.235,-34.85],[6.255,-35.15],[6.28,-34.25],[6.3,-35.6],[6.315,-34.95],[6.335,-35.4],[6.355,-33.9],[6.375,-34.7],[6.395,-35.1],[6.415,-34.4],[6.435,-35.8],[6.455,-34.6],[6.475,-35.25],[6.495,-34.85],
[6.505,-35.35],[6.525,-34.6],[6.545,-35.05],[6.565,-34.3],[6.585,-35.65],[6.6,-34.85],[6.625,-35.2],[6.645,-34.05],[6.655,-35.5],[6.675,-34.7],[6.695,-35.85],[6.715,-34.4],[6.735,-35.1],[6.75,-34.9],[6.765,-35.45],[6.785,-33.95],[6.805,-34.65],[6.825,-35.3],[6.845,-34.2],[6.865,-35.75],[6.885,-34.8],[6.9,-35.0],[6.925,-34.5],[6.945,-35.55],[6.965,-34.35],[6.985,-35.15],
[7.005,-34.85],[7.025,-35.3],[7.045,-34.5],[7.065,-35.6],[7.08,-34.15],[7.1,-35.0],[7.125,-34.7],[7.135,-35.45],[7.155,-34.35],[7.175,-35.8],[7.195,-34.9],[7.215,-35.2],[7.235,-34.0],[7.255,-34.75],[7.28,-35.35],[7.3,-34.55],[7.315,-35.65],[7.335,-34.25],[7.355,-35.1],[7.375,-34.85],[7.395,-35.5],[7.415,-34.45],[7.435,-35.0],[7.455,-33.9],[7.475,-34.65],[7.495,-35.4],
[7.505,-34.9],[7.525,-34.3],[7.545,-35.2],[7.565,-34.6],[7.585,-35.55],[7.6,-34.75],[7.625,-34.05],[7.645,-35.0],[7.655,-35.75],[7.675,-34.4],[7.695,-35.3],[7.715,-34.85],[7.735,-34.2],[7.75,-35.45],[7.765,-34.65],[7.785,-35.05],[7.805,-34.35],[7.825,-35.65],[7.845,-34.95],[7.865,-34.1],[7.885,-35.2],[7.9,-34.55],[7.925,-35.5],[7.945,-34.8],[7.965,-35.85],[7.985,-34.45],
[8.005,-34.85],[8.02,-35.3],[8.04,-34.4],[8.06,-35.75],[8.08,-35.1],[8.1,-36.0],[8.12,-34.6],[8.14,-35.5],[8.16,-35.9],[8.18,-34.9],[8.2,-35.65],[8.22,-36.25],[8.24,-35.35],[8.26,-34.75],[8.28,-35.85],[8.3,-35.2],[8.32,-36.1],[8.34,-34.55],[8.36,-35.6],[8.38,-35.0],[8.4,-34.3],[8.42,-35.4],[8.44,-34.85],[8.46,-35.75],[8.48,-34.45],
[8.505,-34.9],[8.525,-34.3],[8.545,-35.2],[8.565,-34.6],[8.585,-34.0],[8.6,-35.45],[8.625,-34.75],[8.645,-34.15],[8.665,-35.05],[8.685,-34.45],[8.7,-35.6],[8.725,-34.85],[8.745,-33.95],[8.765,-34.6],[8.785,-35.3],[8.805,-34.25],[8.825,-34.95],[8.845,-35.55],[8.865,-34.4],[8.885,-35.1],[8.9,-34.7],[8.925,-34.05],[8.945,-35.35],[8.965,-34.5],[8.985,-35.0],
[9.005,-34.7],[9.025,-35.3],[9.045,-34.35],[9.065,-34.9],[9.085,-33.95],[9.1,-35.15],[9.125,-34.6],[9.145,-35.5],[9.165,-34.2],[9.185,-34.85],[9.2,-35.25],[9.225,-34.45],[9.245,-35.0],[9.265,-34.1],[9.285,-35.4],[9.3,-34.75],[9.325,-34.3],[9.345,-35.1],[9.365,-34.55],[9.385,-35.6],[9.4,-34.95],[9.425,-34.2],[9.445,-35.2],[9.465,-34.65],[9.485,-35.35],
[9.505,-34.5],[9.525,-35.0],[9.545,-34.25],[9.565,-35.45],[9.585,-34.75],[9.6,-35.2],[9.625,-34.4],[9.645,-34.95],[9.665,-35.55],[9.685,-34.6],[9.7,-35.1],[9.725,-34.3],[9.745,-35.35],[9.765,-34.85],[9.785,-35.6],[9.8,-34.55],[9.825,-35.25],[9.845,-34.9],[9.865,-35.7],[9.885,-34.65],[9.9,-35.4],[9.925,-35.0],[9.945,-35.85],[9.965,-34.8],[9.985,-35.5],
[10.005,-35.3],[10.025,-35.75],[10.045,-34.9],[10.065,-35.55],[10.085,-35.95],[10.1,-35.15],[10.125,-35.7],[10.145,-36.15],[10.165,-35.4],[10.185,-35.85],[10.2,-35.05],[10.225,-36.0],[10.245,-35.5],[10.265,-36.4],[10.285,-35.3],[10.3,-35.9],[10.325,-36.2],[10.345,-35.6],[10.365,-36.55],[10.385,-35.75],[10.4,-36.1],[10.425,-35.45],[10.445,-36.3],[10.465,-36.7],[10.485,-35.95],
[10.505,-36.4],[10.525,-35.7],[10.545,-36.55],[10.565,-36.15],[10.585,-36.85],[10.6,-35.9],[10.625,-36.6],[10.645,-36.25],[10.665,-37.0],[10.685,-36.4],[10.7,-35.95],[10.725,-36.8],[10.745,-36.35],[10.765,-37.1],[10.785,-36.55],[10.8,-36.15],[10.825,-36.9],[10.845,-37.3],[10.865,-36.6],[10.885,-37.05],[10.9,-36.45],[10.925,-37.25],[10.945,-36.8],[10.965,-37.5],[10.985,-37.0],[11.01,-36.65],[11.035,-37.2],[11.06,-37.6],[11.085,-36.9],[11.11,-37.35],[11.14,-37.7]];

const FONT='"Liberation Sans", Arial, Helvetica, sans-serif';
Chart.defaults.font.family=FONT;
Chart.defaults.font.size=14;
Chart.defaults.color='#000';

const toXY=a=>a.map(([x,y])=>({x,y}));
const shift=(a,d)=>a.map(([x,y])=>({x,y:y+d}));

// R style axes: line from first to last tick, short ticks outward
const rAxes={id:'rAxes',afterDraw(chart){
  const {ctx,chartArea:a,scales:{x,y}}=chart;
  ctx.save();ctx.strokeStyle='#000';ctx.lineWidth=1;ctx.beginPath();
  const yb=Math.round(a.bottom)+0.5;
  ctx.moveTo(x.getPixelForValue(ageTicks[0]),yb);ctx.lineTo(x.getPixelForValue(ageTicks[ageTicks.length-1]),yb);
  ageTicks.forEach(v=>{const p=Math.round(x.getPixelForValue(v))+0.5;ctx.moveTo(p,yb);ctx.lineTo(p,yb+3.5)});
  const xl=Math.round(a.left)-0.5;
  ctx.moveTo(xl,y.getPixelForValue(d18OTicks[0]));ctx.lineTo(xl,y.getPixelForValue(d18OTicks[d18OTicks.length-1]));
  d18OTicks.forEach(v=>{const p=Math.round(y.getPixelForValue(v))+0.5;ctx.moveTo(xl,p);ctx.lineTo(xl-3.5,p)});
  ctx.stroke();
  // y title: delta^18 O
  const o=chart.options.plugins.rAxes;
  ctx.translate(o.ylabX,(a.top+a.bottom)/2);ctx.rotate(-Math.PI/2);
  ctx.fillStyle='#000';ctx.textBaseline='alphabetic';
  ctx.font='14px '+FONT;const w1=ctx.measureText('δ').width,w3=ctx.measureText('O').width;
  ctx.font='10px '+FONT;const w2=ctx.measureText('18').width;
  const sx=-(w1+w2+w3)/2;
  ctx.font='14px '+FONT;ctx.fillText('δ',sx,0);
  ctx.font='10px '+FONT;ctx.fillText('18',sx+w1,-6);
  ctx.font='14px '+FONT;ctx.fillText('O',sx+w1+w2,0);
  ctx.restore();
  // core tag
  ctx.save();ctx.font='bold 14px '+FONT;ctx.textAlign='right';ctx.textBaseline='middle';ctx.fillStyle='#000';
  ctx.fillText(o.tag,x.getPixelForValue(o.tagAt[0]),y.getPixelForValue(o.tagAt[1]));
  ctx.restore();
}};

const rLegend={id:'rLegend',afterDatasetsDraw(chart){
  const {ctx,chartArea:a,scales:{x,y}}=chart;const o=chart.options.plugins.rLegend;
  const L=Math.round(x.getPixelForValue(o.box[0]))+0.5,R=Math.round(x.getPixelForValue(o.box[1]))+0.5;
  const T=Math.round(y.getPixelForValue(o.box[2]))+0.5,B=a.bottom;
  ctx.save();
  ctx.fillStyle='#fff';ctx.fillRect(L,T,R-L,B-T);
  ctx.strokeStyle='#a020f0';ctx.lineWidth=1;ctx.strokeRect(L,T,R-L,B-T);
  const r1=T+17.5,r2=T+32.5;
  ctx.fillStyle='#000';ctx.fillRect(L+7.5,r1-5,10,10);
  ctx.fillStyle='#ff0000';ctx.fillRect(L+7.5,r2-5,10,10);
  ctx.strokeStyle='#0000ff';ctx.lineWidth=1.2;ctx.beginPath();ctx.moveTo(L+233,Math.round(r1)+0.5);ctx.lineTo(L+259,Math.round(r1)+0.5);ctx.stroke();
  ctx.fillStyle='#bebebe';ctx.beginPath();ctx.arc(L+246,r2,2.2,0,Math.PI*2);ctx.fill();
  ctx.fillStyle='#000';ctx.font='14px '+FONT;ctx.textBaseline='middle';
  ctx.fillText(o.labels[0],L+24,r1);ctx.fillText(o.labels[1],L+24,r2);
  ctx.fillText(o.labels[2],L+271,r1);ctx.fillText(o.labels[3],L+271,r2);
  ctx.restore();
}};

function rPanel(id,p){
  return new Chart(document.getElementById(id),{
    type:'scatter',
    data:{datasets:[
      {type:'line',data:toXY(p.product),borderColor:'#0000ff',borderWidth:1,pointRadius:0,fill:false,tension:0},
      {type:'line',data:shift(p.mid,p.half50),borderColor:'rgba(0,0,0,0)',borderWidth:0,pointRadius:0,backgroundColor:'#000000',fill:'+1'},
      {type:'line',data:shift(p.mid,-p.half50),borderColor:'rgba(0,0,0,0)',borderWidth:0,pointRadius:0,fill:false},
      {type:'line',data:shift(p.mid,p.half95),borderColor:'rgba(0,0,0,0)',borderWidth:0,pointRadius:0,backgroundColor:'#ff0000',fill:'+1'},
      {type:'line',data:shift(p.mid,-p.half95),borderColor:'rgba(0,0,0,0)',borderWidth:0,pointRadius:0,fill:false},
      {type:'scatter',data:toXY(p.raw),pointRadius:2.2,backgroundColor:'#bebebe',borderWidth:0}
    ]},
    options:{
      responsive:false,animation:false,events:[],
      layout:{padding:{top:p.top,left:0,right:0,bottom:0}},
      plugins:{legend:{display:false},tooltip:{enabled:false},
        rLegend:{box:[1,10,-37],labels:['50% credible band from DPH','95% credible band from DPH',p.productLabel,'raw measurements']},
        rAxes:{ylabX:23.5,tag:p.tag,tagAt:p.tagAt}},
      scales:{
        x:{type:'linear',min:-0.463,max:12.094,
          afterBuildTicks:s=>{s.ticks=ageTicks.map(v=>({value:v}))},
          afterFit:s=>{s.height=p.xAxisH;s.paddingLeft=0;s.paddingRight=0},
          grid:{display:false,drawTicks:false},border:{display:false},
          ticks:{padding:p.xTickPad,maxRotation:0,autoSkip:false,callback:v=>String(v)},
          title:{display:true,text:'Age (k yr BP)',font:{size:14,lineHeight:1},padding:{top:0,bottom:p.xTitlePad}}},
        y:{type:'linear',min:-38.2,max:-32.8,
          afterBuildTicks:s=>{s.ticks=d18OTicks.map(v=>({value:v}))},
          afterFit:s=>{s.width=78;s.paddingTop=0;s.paddingBottom=0},
          grid:{display:false,drawTicks:false},border:{display:false},
          ticks:{padding:18,autoSkip:false,callback:v=>'\u2212'+Math.abs(v)}}
      }
    },
    plugins:[rLegend,rAxes]
  });
}

rPanel('gisp',{mid:gispMid,half95:gispHalf95,half50:gispHalf50,product:gispSG,raw:gispRaw,
  productLabel:'Data product from SG',tag:'GISP2',tagAt:[10.97,-32.75],
  top:17,xAxisH:104.2,xTickPad:26,xTitlePad:30.3});
rPanel('grip',{mid:gripMid,half95:gripHalf95,half50:gripHalf50,product:gripM,raw:gripRaw,
  productLabel:'Data product from M',tag:'GRIP',tagAt:[10.97,-33.28],
  top:21.9,xAxisH:74,xTickPad:26,xTitlePad:0});
</script>
</body></html>
